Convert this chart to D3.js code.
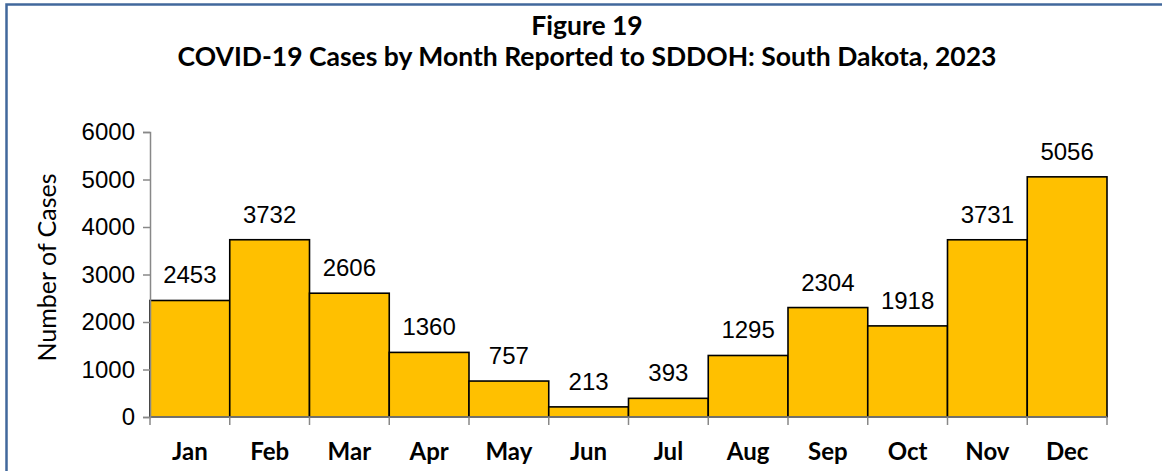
<!DOCTYPE html>
<html>
<head>
<meta charset="utf-8">
<script src="https://cdn.jsdelivr.net/npm/d3@7"></script>
<style>
  body { margin: 0; background: #fff; }
  svg { display: block; }
</style>
</head>
<body>
<div id="chart"></div>
<script>
// data
const months = ['Jan', 'Feb', 'Mar', 'Apr', 'May', 'Jun', 'Jul', 'Aug', 'Sep', 'Oct', 'Nov', 'Dec'];
const cases = [2453, 3732, 2606, 1360, 757, 213, 393, 1295, 2304, 1918, 3731, 5056];
const yTicks = [0, 1000, 2000, 3000, 4000, 5000, 6000];
const titleLines = ['Figure 19', 'COVID-19 Cases by Month Reported to SDDOH: South Dakota, 2023'];
const yTitle = 'Number of Cases';

const W = 1162, H = 471;
const margin = { top: 132, right: 55, bottom: 54, left: 150 };
const width = W - margin.left - margin.right,
      height = H - margin.top - margin.bottom;

const svg = d3.select('#chart').append('svg')
  .attr('width', W)
  .attr('height', H);

// outer frame (only top and left visible in the crop)
svg.append('path')
  .attr('d', `M6.5,${H + 5} L6.5,4.5 L${W + 5},4.5`)
  .attr('fill', 'none')
  .attr('stroke', '#41689c')
  .attr('stroke-width', 2.5);

// titles
svg.selectAll('.title')
  .data(titleLines)
  .join('text')
  .attr('class', 'title')
  .attr('x', 587)
  .attr('y', (d, i) => 35 + i * 31)
  .attr('text-anchor', 'middle')
  .attr('font-family', 'Lato, sans-serif')
  .attr('font-weight', 'bold')
  .attr('font-size', 26.5)
  .attr('fill', '#000')
  .text(d => d);

const g = svg.append('g')
  .attr('transform', `translate(${margin.left},${margin.top})`);

const x = d3.scaleBand().domain(months).range([0, width]).padding(0);
const y = d3.scaleLinear().domain([0, 6000]).range([height, 0]);

// bars
g.selectAll('rect.bar')
  .data(cases)
  .join('rect')
  .attr('class', 'bar')
  .attr('x', (d, i) => x(months[i]))
  .attr('y', d => y(d))
  .attr('width', x.bandwidth())
  .attr('height', d => height - y(d))
  .attr('fill', '#ffc000')
  .attr('stroke', '#000')
  .attr('stroke-width', 1.6);

// value labels
g.selectAll('text.val')
  .data(cases)
  .join('text')
  .attr('class', 'val')
  .attr('x', (d, i) => x(months[i]) + x.bandwidth() / 2)
  .attr('y', d => y(d) - 17)
  .attr('text-anchor', 'middle')
  .attr('font-family', 'Liberation Sans, Arial, sans-serif')
  .attr('font-size', 24)
  .attr('fill', '#000')
  .text(d => d);

// y axis
const yAxis = g.append('g')
  .call(d3.axisLeft(y).tickValues(yTicks).tickSize(7).tickPadding(8).tickFormat(d3.format('d')));
yAxis.select('.domain').attr('stroke', '#888').attr('stroke-width', 1.5);
yAxis.selectAll('.tick line').attr('stroke', '#888').attr('stroke-width', 1.5);
yAxis.selectAll('.tick text')
  .attr('font-family', 'Liberation Sans, Arial, sans-serif')
  .attr('font-size', 24)
  .attr('fill', '#000');

// x axis: ticks between categories
const xAxisG = g.append('g').attr('transform', `translate(0,${height})`);
xAxisG.append('line')
  .attr('x1', 0).attr('x2', width)
  .attr('stroke', '#888').attr('stroke-width', 1.5);
const bounds = months.map(m => x(m)).concat([width]);
xAxisG.selectAll('line.tk')
  .data(bounds)
  .join('line')
  .attr('class', 'tk')
  .attr('x1', d => d).attr('x2', d => d)
  .attr('y1', 0).attr('y2', 8)
  .attr('stroke', '#888').attr('stroke-width', 1.5);
xAxisG.selectAll('text.mon')
  .data(months)
  .join('text')
  .attr('class', 'mon')
  .attr('x', d => x(d) + x.bandwidth() / 2)
  .attr('y', 43)
  .attr('text-anchor', 'middle')
  .attr('font-family', 'Lato, sans-serif')
  .attr('font-weight', 'bold')
  .attr('font-size', 24)
  .attr('fill', '#000')
  .text(d => d);

// y axis title
svg.append('text')
  .attr('transform', `translate(56,${margin.top + height / 2 - 7}) rotate(-90)`)
  .attr('text-anchor', 'middle')
  .attr('font-family', 'Lato, sans-serif')
  .attr('font-size', 25)
  .attr('fill', '#000')
  .text(yTitle);
</script>
</body>
</html>
